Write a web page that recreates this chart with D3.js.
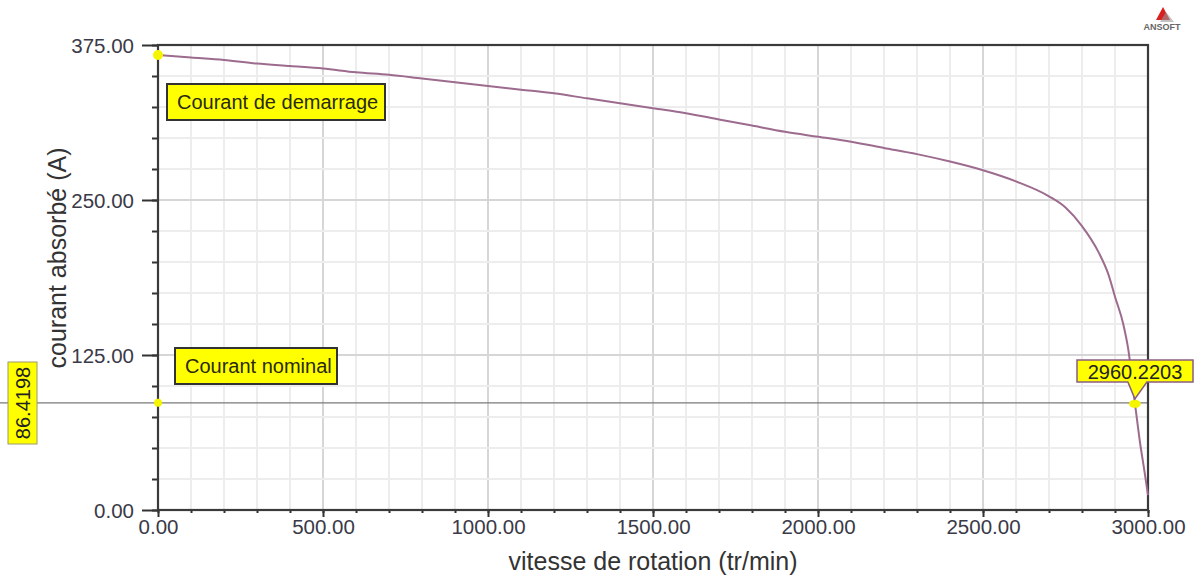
<!DOCTYPE html>
<html>
<head>
<meta charset="utf-8">
<script src="https://cdn.jsdelivr.net/npm/d3@7"></script>
<style>
  body { margin: 0; background: #fff; }
  svg { display: block; font-family: Arial, "Liberation Sans", sans-serif; }
</style>
</head>
<body>
<svg class="chart" width="1195" height="579"></svg>
<script>
// vitesse (tr/min) et courant (A)
const speed = [0, 100, 200, 300, 400, 500, 600, 700, 800, 900, 1000, 1100, 1200, 1300, 1400, 1500,
  1600, 1700, 1800, 1900, 2000, 2100, 2200, 2300, 2400, 2500, 2600, 2700, 2750, 2800, 2850, 2880,
  2900, 2925, 2940, 2960.22, 2975, 2990, 3000];
const current = [367, 365, 363, 360, 358, 356, 353, 351, 348, 345, 342, 339, 336, 332, 328, 324,
  320, 315, 310, 305, 301, 297, 292, 287, 281, 274, 265, 253, 244, 229, 208, 190,
  172, 150, 130, 86.42, 56, 30, 12];

const xTicks = [0, 500, 1000, 1500, 2000, 2500, 3000];
const yTicks = [0, 125, 250, 375];
const xMinor = d3.range(0, 3001, 100);
const yMinor = d3.range(0, 376, 25);

const nominal = { x: 2960.2203, y: 86.4198 };
const start = { x: 0, y: 367 };

const svg = d3.select(".chart");
const plotL = 158, plotR = 1148, plotT = 45, plotB = 510;

const x = d3.scaleLinear().domain([0, 3000]).range([plotL, plotR]);
const y = d3.scaleLinear().domain([0, 375]).range([plotB, plotT]);
const fmt = d3.format(".2f");

/*
      Grille
*/
const grid = svg.append("g");
grid.selectAll(".vx").data(xMinor).join("line")
  .attr("x1", d => x(d)).attr("x2", d => x(d))
  .attr("y1", plotT).attr("y2", plotB)
  .attr("stroke", d => d % 500 === 0 ? "#d6d6d6" : "#ededed")
  .attr("stroke-width", 2);
grid.selectAll(".hy").data(yMinor).join("line")
  .attr("y1", d => y(d)).attr("y2", d => y(d))
  .attr("x1", plotL).attr("x2", plotR)
  .attr("stroke", d => d % 125 === 0 ? "#d6d6d6" : "#ededed")
  .attr("stroke-width", 2);

// ligne du courant nominal
svg.append("line")
  .attr("x1", 0).attr("x2", plotR)
  .attr("y1", y(nominal.y)).attr("y2", y(nominal.y))
  .attr("stroke", "#7a7a7a").attr("stroke-width", 1.2);

/*
      Axes
*/
const styleAxis = g => {
  g.select(".domain").remove();
  g.selectAll(".tick line").attr("stroke", "#333").attr("stroke-width", 2);
  g.selectAll(".tick text").attr("fill", "#3a3a48").attr("font-size", "20.5px");
};

svg.append("g").attr("transform", `translate(${plotL},0)`)
  .call(d3.axisLeft(y).tickValues(yMinor).tickSize(6).tickFormat(""))
  .call(styleAxis);
svg.append("g").attr("transform", `translate(${plotL},0)`)
  .call(d3.axisLeft(y).tickValues(yTicks).tickSize(16).tickPadding(8).tickFormat(fmt))
  .call(styleAxis)
  .selectAll(".tick text").attr("dy", "0.36em");

svg.append("g").attr("transform", `translate(0,${plotB})`)
  .call(d3.axisBottom(x).tickValues(xMinor).tickSize(3).tickFormat(""))
  .call(styleAxis);
svg.append("g").attr("transform", `translate(0,${plotB})`)
  .call(d3.axisBottom(x).tickValues(xTicks).tickSize(7).tickPadding(2).tickFormat(fmt))
  .call(styleAxis);

// cadre
svg.append("rect")
  .attr("x", plotL).attr("y", plotT)
  .attr("width", plotR - plotL).attr("height", plotB - plotT)
  .attr("fill", "none").attr("stroke", "#3a3a3a").attr("stroke-width", 2.2);

svg.append("text")
  .attr("x", (plotL + plotR) / 2).attr("y", 570)
  .attr("text-anchor", "middle").attr("font-size", "25px").attr("fill", "#333")
  .text("vitesse de rotation (tr/min)");

svg.append("text")
  .attr("transform", `translate(66,258) rotate(-90)`)
  .attr("text-anchor", "middle").attr("font-size", "25px").attr("fill", "#333")
  .text("courant absorbé (A)");

/*
      Courbe
*/
const line = d3.line().x((d, i) => x(speed[i])).y(d => y(d)).curve(d3.curveMonotoneX);
svg.append("path")
  .datum(current)
  .attr("d", line)
  .attr("fill", "none")
  .attr("stroke", "#9c6b8e")
  .attr("stroke-width", 2);

/*
      Marqueurs
*/
svg.append("circle").attr("cx", x(start.x)).attr("cy", y(start.y)).attr("r", 5).attr("fill", "#f5f500");
svg.append("circle").attr("cx", x(0)).attr("cy", y(nominal.y)).attr("r", 4).attr("fill", "#f5f500");
svg.append("ellipse").attr("cx", x(nominal.x)).attr("cy", y(nominal.y) + 1).attr("rx", 6).attr("ry", 4).attr("fill", "#f5f500");

function noteBox(bx, by, w, h, label) {
  svg.append("rect")
    .attr("x", bx).attr("y", by).attr("width", w).attr("height", h)
    .attr("fill", "#ffff00").attr("stroke", "#333").attr("stroke-width", 2);
  svg.append("text")
    .attr("x", bx + 10).attr("y", by + h / 2 + 7)
    .attr("font-size", "20px").attr("fill", "#2a2a10")
    .text(label);
}
noteBox(167, 84, 218, 36, "Courant de demarrage");
noteBox(175, 348, 162, 36, "Courant nominal");

// etiquette de la vitesse nominale
const px = x(nominal.x), py = y(nominal.y);
svg.append("path")
  .attr("d", `M1077,360 H1193 V382 H${px + 12} L${px},${py - 4} L${px - 7},382 H1077 Z`)
  .attr("fill", "#ffff00").attr("stroke", "#8a5c82").attr("stroke-width", 1.5);
svg.append("text")
  .attr("x", 1135).attr("y", 379)
  .attr("text-anchor", "middle").attr("font-size", "20px").attr("fill", "#222")
  .text(nominal.x.toFixed(4));

// etiquette du courant nominal
svg.append("rect")
  .attr("x", 8).attr("y", 362).attr("width", 29).attr("height", 82)
  .attr("fill", "#ffff00").attr("stroke", "#9a9a6a").attr("stroke-width", 1);
svg.append("text")
  .attr("transform", `translate(30,403) rotate(-90)`)
  .attr("text-anchor", "middle").attr("font-size", "20px").attr("fill", "#222")
  .text(nominal.y.toFixed(4));

// logo
svg.append("path")
  .attr("d", "M1163,7 L1170,20 L1156,20 Z")
  .attr("fill", "#d92020");
svg.append("path")
  .attr("d", "M1166,12 L1174,22 L1160,22 Z")
  .attr("fill", "#999").attr("opacity", 0.6);
svg.append("text")
  .attr("x", 1162).attr("y", 30)
  .attr("text-anchor", "middle").attr("font-size", "9px").attr("font-weight", "bold")
  .attr("fill", "#666").text("ANSOFT");
</script>
</body>
</html>
